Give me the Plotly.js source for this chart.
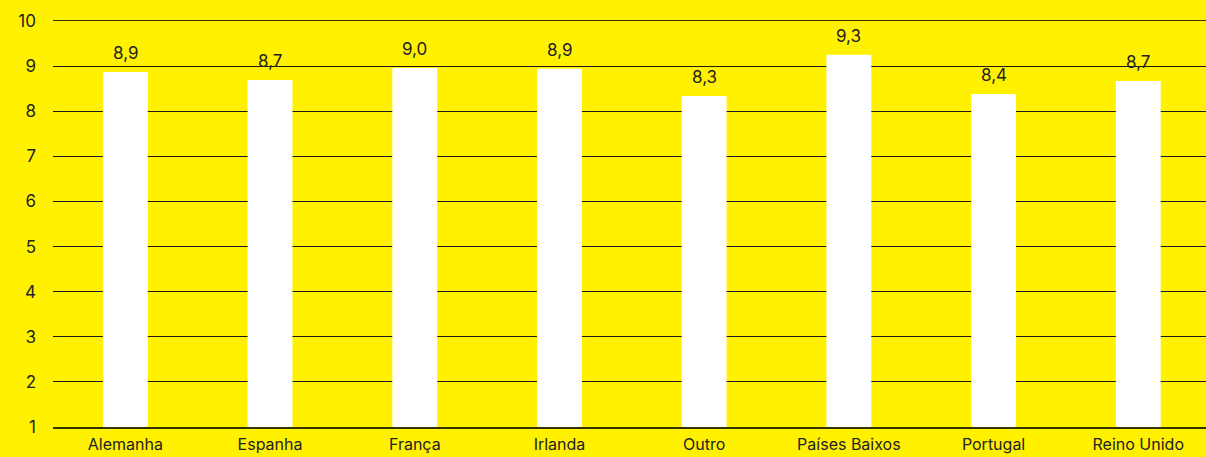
<!DOCTYPE html>
<html>
<head>
<meta charset="utf-8">
<script src="https://cdn.plot.ly/plotly-3.0.1.min.js"></script>
<style>html,body{margin:0;padding:0;background:#FFF100;}#chart{width:1206px;height:457px;}</style>
</head>
<body>
<div id="chart"></div>
<script>
const categories = ["Alemanha", "Espanha", "França", "Irlanda", "Outro", "Países Baixos", "Portugal", "Reino Unido"];
const values = [8.87, 8.69, 8.96, 8.94, 8.34, 9.25, 8.38, 8.67];
const yTicks = [1, 2, 3, 4, 5, 6, 7, 8, 9, 10];

const FONT = "Inter, 'Liberation Sans', sans-serif";

const trace = {
  type: "bar",
  x: categories,
  y: values,
  width: 0.31,
  marker: {color: "#FFFFFF", line: {width: 0}},
  hoverinfo: "skip"
};

const annotations = categories.map((c, i) => ({
  x: c,
  y: values[i],
  xref: "x",
  yref: "y",
  text: values[i].toFixed(1).replace(".", ","),
  showarrow: false,
  yanchor: "bottom",
  yshift: 7,
  font: {family: FONT, size: 17, color: "#222222"}
}));

const layout = {
  width: 1206,
  height: 457,
  paper_bgcolor: "#FFF100",
  plot_bgcolor: "#FFF100",
  separators: ",.",
  margin: {l: 53, r: 0, t: 21, b: 30},
  showlegend: false,
  font: {family: FONT, color: "#222222"},
  annotations: annotations,
  xaxis: {
    type: "category",
    range: [-0.5, 7.468],
    showgrid: false,
    zeroline: false,
    showline: true,
    mirror: true,
    linecolor: "#333300",
    linewidth: 1.5,
    ticks: "",
    ticklabelstandoff: 2,
    tickfont: {size: 16, color: "#222222"}
  },
  yaxis: {
    range: [1, 10],
    tickvals: yTicks,
    ticktext: yTicks.map(String),
    showgrid: true,
    gridcolor: "#1a1a1a",
    gridwidth: 1,
    zeroline: false,
    showline: false,
    ticks: "",
    ticklabelstandoff: 16,
    tickfont: {size: 17, color: "#222222"},
    layer: "below traces"
  }
};

Plotly.newPlot("chart", [trace], layout, {displayModeBar: false, staticPlot: true});
</script>
</body>
</html>
